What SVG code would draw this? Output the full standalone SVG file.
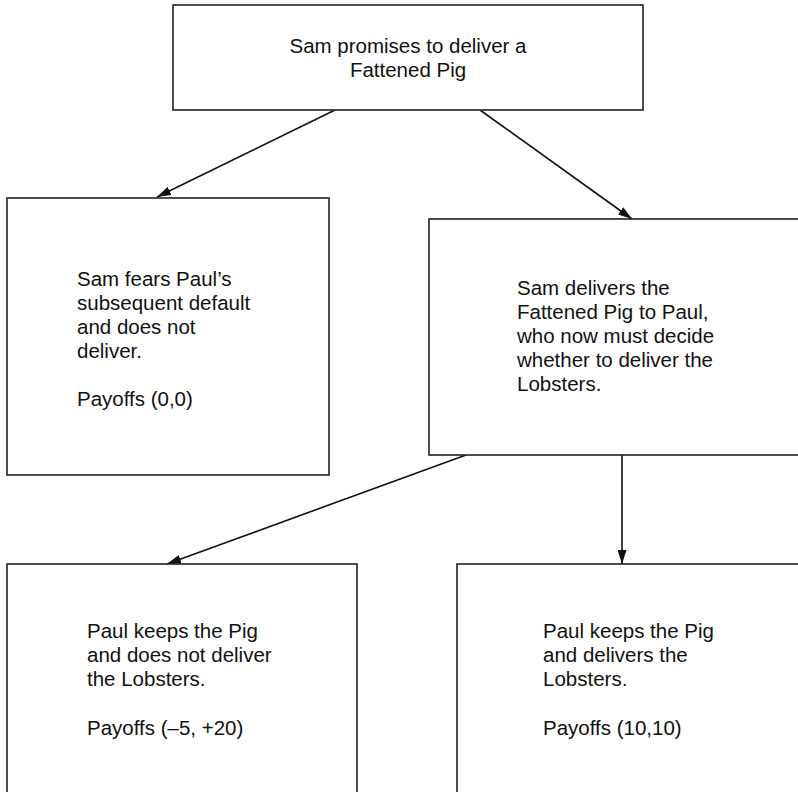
<svg xmlns="http://www.w3.org/2000/svg" width="798" height="792" viewBox="0 0 798 792">
<style>
.box{fill:#fff;stroke:#222;stroke-width:1.6}
.t{font-family:"Liberation Sans",Arial,sans-serif;font-size:20.5px;fill:#111}
.c{stroke:#111;stroke-width:1.6;fill:none;marker-end:url(#ah)}
</style>
<defs>
<marker id="ah" viewBox="0 0 10 10" refX="10" refY="5" markerWidth="14" markerHeight="9" markerUnits="userSpaceOnUse" orient="auto" preserveAspectRatio="none">
<path d="M0,0 L10,5 L0,10 z" fill="#111"/>
</marker>
</defs>
<rect width="798" height="792" fill="#fff"/>
<g id="connectors">
<line class="c" x1="335" y1="110" x2="157" y2="197"/>
<line class="c" x1="480" y1="110" x2="632" y2="219"/>
<line class="c" x1="466" y1="455" x2="167" y2="564"/>
<line class="c" x1="622" y1="455" x2="622" y2="564"/>
</g>
<g id="n1">
<rect class="box" x="173" y="5" width="470" height="105"/>
<text class="t" x="408" y="53" text-anchor="middle">Sam promises to deliver a</text>
<text class="t" x="408" y="77" text-anchor="middle">Fattened Pig</text>
</g>
<g id="n2">
<rect class="box" x="7" y="198" width="322" height="277"/>
<text class="t" x="77" y="286">Sam fears Paul’s</text>
<text class="t" x="77" y="310">subsequent default</text>
<text class="t" x="77" y="334">and does not</text>
<text class="t" x="77" y="358">deliver.</text>
<text class="t" x="77" y="406">Payoffs (0,0)</text>
</g>
<g id="n3">
<rect class="box" x="429" y="219" width="380" height="236"/>
<text class="t" x="517" y="295">Sam delivers the</text>
<text class="t" x="517" y="319">Fattened Pig to Paul,</text>
<text class="t" x="517" y="343">who now must decide</text>
<text class="t" x="517" y="367">whether to deliver the</text>
<text class="t" x="517" y="391">Lobsters.</text>
</g>
<g id="n4">
<rect class="box" x="7" y="564" width="350" height="240"/>
<text class="t" x="87" y="638">Paul keeps the Pig</text>
<text class="t" x="87" y="662">and does not deliver</text>
<text class="t" x="87" y="686">the Lobsters.</text>
<text class="t" x="87" y="735">Payoffs (–5, +20)</text>
</g>
<g id="n5">
<rect class="box" x="457" y="564" width="350" height="240"/>
<text class="t" x="543" y="638">Paul keeps the Pig</text>
<text class="t" x="543" y="662">and delivers the</text>
<text class="t" x="543" y="686">Lobsters.</text>
<text class="t" x="543" y="735">Payoffs (10,10)</text>
</g>
</svg>
